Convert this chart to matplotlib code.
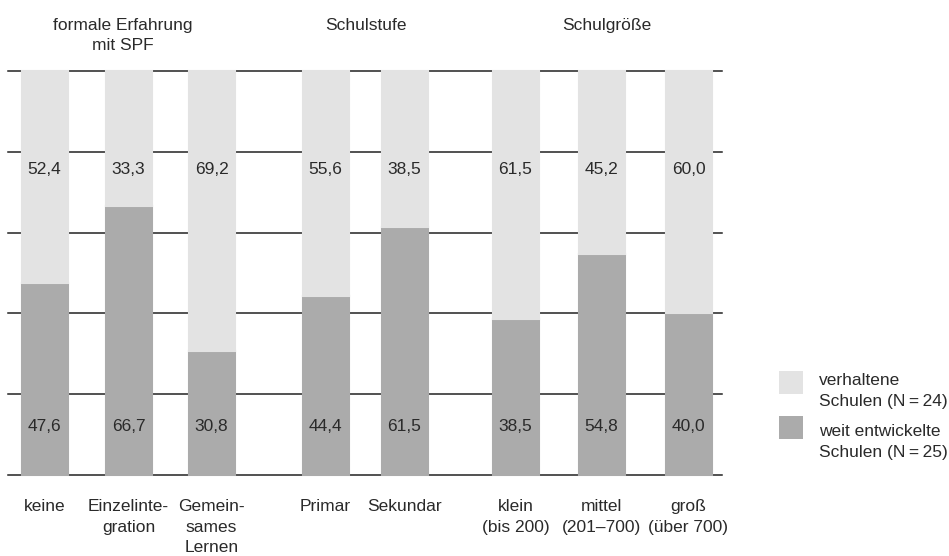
import matplotlib
matplotlib.use("Agg")
import matplotlib.pyplot as plt
from matplotlib.patches import Rectangle
from matplotlib.transforms import blended_transform_factory

plt.rcParams['font.family'] = ['Liberation Sans', 'DejaVu Sans']

# ---- data ----
categories = ["keine", "Einzelinte-\ngration", "Gemein-\nsames\nLernen",
              "Primar", "Sekundar",
              "klein\n(bis 200)", "mittel\n(201–700)", "groß\n(über 700)"]
weit = [47.6, 66.7, 30.8, 44.4, 61.5, 38.5, 54.8, 40.0]
verhalten = [52.4, 33.3, 69.2, 55.6, 38.5, 61.5, 45.2, 60.0]
groups = ["formale Erfahrung\nmit SPF", "Schulstufe", "Schulgröße"]
legend_labels = ["verhaltene\nSchulen (N\u2009=\u200924)",
                 "weit entwickelte\nSchulen (N\u2009=\u200925)"]
yticks = [0, 20, 40, 60, 80, 100]

# ---- layout ----
W, H = 949, 556
positions = [44.5, 128.5, 211.5, 325.5, 404.5, 515.5, 601.5, 688.5]
group_x = [123, 366, 607]
bar_w = 46
light = "#e3e3e3"
dark = "#ababab"
txt = "#2a2a2a"
fs = 12.5

fig = plt.figure(figsize=(W / 100, H / 100), dpi=100)
ax = fig.add_axes([8 / W, 81 / H, (722 - 8) / W, (475 - 71) / H])
ax.set_xlim(8, 722)
ax.set_ylim(0, 100)
for s in ax.spines.values():
    s.set_visible(False)
ax.set_xticks([])
ax.set_yticks([])
for y in yticks:
    ax.axhline(y, color="#222222", lw=1.1, zorder=1, clip_on=False)

ax.bar(positions, weit, width=bar_w, color=dark, edgecolor=dark, linewidth=1.5,
       zorder=2, clip_on=False)
ax.bar(positions, verhalten, bottom=weit, width=bar_w, color=light, edgecolor=light,
       linewidth=1.5, zorder=2, clip_on=False)

def fmt(v):
    return f"{v:.1f}".replace(".", ",")

for x, w, v in zip(positions, weit, verhalten):
    ax.text(x, 12, fmt(w), ha="center", va="center", fontsize=fs, color=txt, zorder=3)
    ax.text(x, 75.5, fmt(v), ha="center", va="center", fontsize=fs, color=txt, zorder=3)

tr = blended_transform_factory(ax.transData, fig.transFigure)
for x, lab in zip(positions, categories):
    ax.text(x, 1 - 499 / H, lab, ha="center", va="top", fontsize=fs, color=txt,
            transform=tr, linespacing=1.46)
for x, g in zip(group_x, groups):
    ax.text(x, 1 - 18 / H, g, ha="center", va="top", fontsize=fs, color=txt,
            transform=tr, linespacing=1.4)

# legend (squares aligned with the first text line)
square_tops = [371, 416]
text_tops = [373, 424]
for col, lab, st, tt in zip([light, dark], legend_labels, square_tops, text_tops):
    fig.patches.append(Rectangle((779 / W, 1 - (st + 23) / H), 24 / W, 23 / H,
                                 transform=fig.transFigure, facecolor=col,
                                 edgecolor="none"))
    fig.text(819 / W, 1 - tt / H, lab, ha="left", va="top", fontsize=fs,
             color=txt, linespacing=1.46)

fig.savefig("out.png", dpi=100)
